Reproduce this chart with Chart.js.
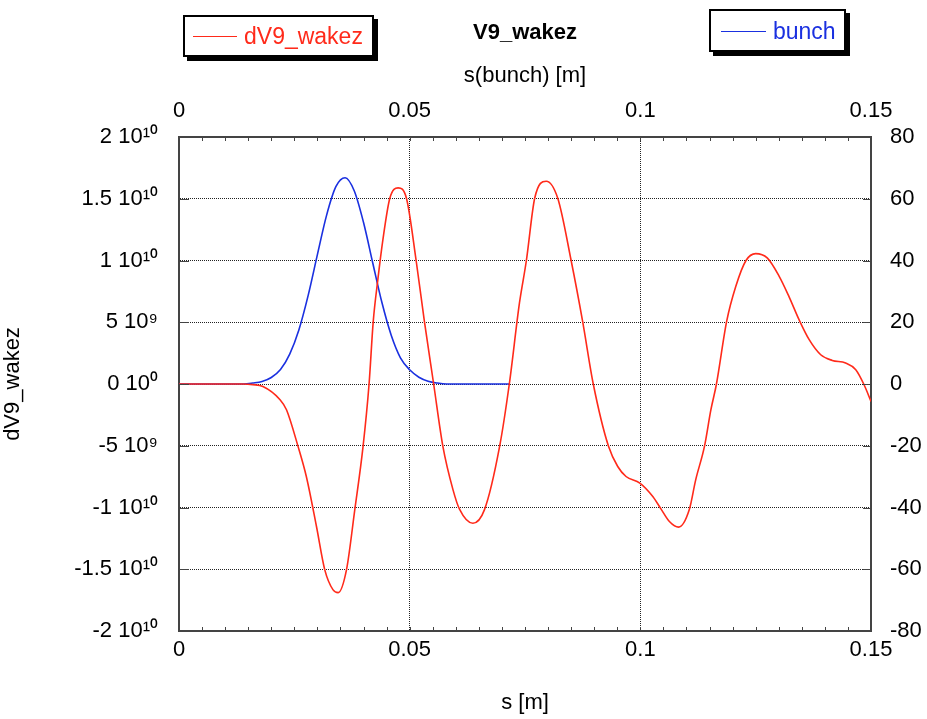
<!DOCTYPE html>
<html>
<head>
<meta charset="utf-8">
<script src="https://cdn.jsdelivr.net/npm/chart.js@4.4.1/dist/chart.umd.min.js"></script>
<style>
  html, body { margin: 0; padding: 0; background: #fff; }
  #wrap { position: relative; width: 927px; height: 719px; }
  canvas { position: absolute; left: 0; top: 0; }
  .lg { position: absolute; background: #fff; border: 2px solid #000; box-shadow: 4px 4px 0 #000;
        box-sizing: border-box; font-family: 'Liberation Sans', Arial, sans-serif; font-size: 23px; }
  .lg .ln { position: absolute; height: 1px; }
  .lg .tx { position: absolute; white-space: nowrap; line-height: 1; }
</style>
</head>
<body>
<div id="wrap">
  <canvas id="c" width="927" height="719"></canvas>
  <div class="lg" id="lg1" style="left:183px; top:15px; width:191px; height:42px;">
    <div class="ln" style="left:8px; top:19px; width:44px; background:#ff2a1a;"></div>
    <div class="tx" style="left:59px; top:8px; color:#ff2a1a;">dV9_wakez</div>
  </div>
  <div class="lg" id="lg2" style="left:709px; top:9px; width:137px; height:43px;">
    <div class="ln" style="left:10px; top:20px; width:45px; background:#1a30e0;"></div>
    <div class="tx" style="left:62px; top:9px; color:#1a30e0;">bunch</div>
  </div>
</div>
<script>
// ---- data ----
const wakeS = [0, 0.010, 0.0139, 0.016, 0.0182, 0.0219, 0.0233, 0.0258, 0.0276, 0.0298, 0.0316, 0.0334, 0.0345,
  0.0363, 0.0381, 0.0399, 0.0412, 0.0421, 0.0431, 0.0442, 0.0457, 0.0475, 0.0493, 0.0514, 0.0532, 0.0552,
  0.0572, 0.0594, 0.0608, 0.0637, 0.0662, 0.0695, 0.0716, 0.0738, 0.0753, 0.0771, 0.0796, 0.0821, 0.0850,
  0.0875, 0.0898, 0.0931, 0.0951, 0.0969, 0.0999, 0.1027, 0.1045, 0.1063, 0.1083, 0.1106, 0.1120, 0.1139,
  0.1153, 0.1165, 0.1187, 0.1207, 0.1229, 0.1250, 0.1275, 0.1301, 0.1322, 0.1344, 0.1366, 0.1391, 0.1416,
  0.1445, 0.1467, 0.1485, 0.1500];
const wakeV = [0, 0, 0, -0.005e10, -0.02e10, -0.127e10, -0.208e10, -0.505e10, -0.749e10, -1.154e10, -1.505e10, -1.667e10, -1.689e10,
  -1.505e10, -1.019e10, -0.505e10, 0, 0.505e10, 0.845e10, 1.169e10, 1.504e10, 1.588e10, 1.504e10, 1.0e10, 0.505e10, 0,
  -0.505e10, -0.857e10, -1.013e10, -1.127e10, -1.019e10, -0.505e10, 0, 0.656e10, 1.0e10, 1.504e10, 1.642e10, 1.504e10, 1.0e10,
  0.505e10, 0, -0.505e10, -0.668e10, -0.749e10, -0.802e10, -0.911e10, -1.013e10, -1.113e10, -1.159e10, -1.019e10, -0.776e10, -0.505e10,
  -0.208e10, 0, 0.505e10, 0.791e10, 1.0e10, 1.056e10, 1.021e10, 0.872e10, 0.710e10, 0.521e10, 0.359e10, 0.237e10, 0.191e10,
  0.170e10, 0.116e10, -0.006e10, -0.141e10];

const bunchS = [0, 0.014, 0.016, 0.018, 0.020, 0.022, 0.024, 0.026, 0.028, 0.030, 0.032, 0.034, 0.036, 0.038,
  0.040, 0.042, 0.044, 0.046, 0.048, 0.050, 0.052, 0.054, 0.056, 0.058, 0.0716];
const bunchV = [0, 0, 0.3, 0.8, 2.1, 4.7, 9.7, 17.6, 28.7, 41.9, 54.7, 63.9, 66.8, 62.5,
  52.3, 39.2, 26.3, 15.8, 8.5, 4.6, 2.2, 0.9, 0.3, 0, 0];

const sTickLabels = ['0', '0.05', '0.1', '0.15'];
const wakeTickLabels = ['-2 10\u00B9\u2070', '-1.5 10\u00B9\u2070', '-1 10\u00B9\u2070', '-5 10\u2079', '0 10\u2070',
  '5 10\u2079', '1 10\u00B9\u2070', '1.5 10\u00B9\u2070', '2 10\u00B9\u2070'];
const bunchTickLabels = ['-80', '-60', '-40', '-20', '0', '20', '40', '60', '80'];

const FONT = "'Liberation Sans', Arial, sans-serif";
const RED = '#ff2a1a', BLUE = '#1a30e0';

const tickMarks = {
  id: 'tickMarks',
  afterDraw(chart) {
    const { ctx, chartArea: a, scales } = chart;
    ctx.save();
    ctx.strokeStyle = '#444';
    ctx.lineWidth = 1;
    const seg = (x1, y1, x2, y2) => { ctx.beginPath(); ctx.moveTo(x1, y1); ctx.lineTo(x2, y2); ctx.stroke(); };
    for (let i = 0; i <= 30; i++) {
      const v = i * 0.005;
      const xb = Math.round(scales.x.getPixelForValue(v)) + 0.5;
      seg(xb, a.bottom, xb, a.bottom - 4);
      const xt = Math.round(scales.x2.getPixelForValue(v)) + 0.5;
      seg(xt, a.top, xt, a.top + 4);
    }
    scales.y.ticks.forEach(t => {
      const y = Math.round(scales.y.getPixelForValue(t.value)) + 0.5;
      seg(a.left, y, a.left + 10, y);
    });
    scales.y2.ticks.forEach(t => {
      const y = Math.round(scales.y2.getPixelForValue(t.value)) + 0.5;
      seg(a.right, y, a.right - 8, y);
    });
    ctx.restore();
  }
};

const tickFont = { family: FONT, size: 22 };
const titleFont = { family: FONT, size: 22 };

new Chart(document.getElementById('c'), {
  type: 'line',
  data: {
    datasets: [
      {
        label: 'dV9_wakez',
        data: wakeS.map((s, i) => ({ x: s, y: wakeV[i] })),
        borderColor: RED, borderWidth: 1.6, pointRadius: 0,
        cubicInterpolationMode: 'monotone', xAxisID: 'x', yAxisID: 'y'
      },
      {
        label: 'bunch',
        data: bunchS.map((s, i) => ({ x: s, y: bunchV[i] })),
        borderColor: BLUE, borderWidth: 1.6, pointRadius: 0,
        cubicInterpolationMode: 'monotone', xAxisID: 'x2', yAxisID: 'y2'
      }
    ]
  },
  options: {
    responsive: false,
    animation: false,
    layout: { padding: 0 },
    plugins: {
      legend: { display: false },
      tooltip: { enabled: false },
      title: {
        display: true, text: 'V9_wakez', color: '#000', fullSize: false,
        font: { family: FONT, size: 22, weight: 'bold' },
        padding: { top: 20, bottom: 4 }
      }
    },
    scales: {
      x: {
        type: 'linear', position: 'bottom', min: 0, max: 0.15,
        afterBuildTicks: s => { s.ticks = sTickLabels.map(l => ({ value: parseFloat(l) })); },
        ticks: { font: tickFont, color: '#000', padding: 6, maxRotation: 0,
                 callback: (v, i) => sTickLabels[i] },
        grid: { color: '#222', lineWidth: 1, drawTicks: false },
        border: { display: true, color: '#444', width: 2, dash: [1, 1] },
        title: { display: true, text: 's [m]', color: '#000', font: titleFont, padding: { top: 0, bottom: 3 } },
        afterFit: s => { s.height = 88; }
      },
      x2: {
        type: 'linear', position: 'top', min: 0, max: 0.15,
        afterBuildTicks: s => { s.ticks = sTickLabels.map(l => ({ value: parseFloat(l) })); },
        ticks: { font: tickFont, color: '#000', padding: 13, maxRotation: 0,
                 callback: (v, i) => sTickLabels[i] },
        grid: { display: false, drawTicks: false },
        border: { display: true, color: '#444', width: 2 },
        title: { display: true, text: 's(bunch) [m]', color: '#000', font: titleFont, padding: { top: 12, bottom: 0 } },
        afterFit: s => { s.height = 86.6; }
      },
      y: {
        type: 'linear', position: 'left', min: -2e10, max: 2e10,
        afterBuildTicks: s => { s.ticks = wakeTickLabels.map((l, i) => ({ value: -2e10 + i * 5e9 })); },
        ticks: { font: tickFont, color: '#000', padding: 21, callback: (v, i) => wakeTickLabels[i] },
        grid: { color: '#222', lineWidth: 1, drawTicks: false },
        border: { display: true, color: '#444', width: 2, dash: [1, 1] },
        title: { display: true, text: 'dV9_wakez', color: '#000', font: titleFont, padding: { top: 0, bottom: 12 } },
        afterFit: s => { s.width = 179; }
      },
      y2: {
        type: 'linear', position: 'right', min: -80, max: 80,
        afterBuildTicks: s => { s.ticks = bunchTickLabels.map(l => ({ value: parseFloat(l) })); },
        ticks: { font: tickFont, color: '#000', padding: 19, callback: (v, i) => bunchTickLabels[i] },
        grid: { display: false, drawTicks: false },
        border: { display: true, color: '#444', width: 2 },
        afterFit: s => { s.width = 56; }
      }
    }
  },
  plugins: [tickMarks]
});
</script>
</body>
</html>
